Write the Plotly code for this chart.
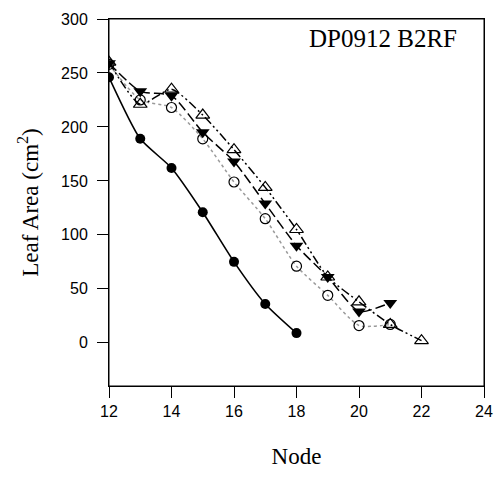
import plotly.graph_objects as go

nodes_a = [12, 13, 14, 15, 16, 17, 18]
area_a = [246, 189, 162, 121, 75, 36, 9]

nodes_b = [12, 13, 14, 15, 16, 17, 18, 19, 20, 21]
area_b = [259, 233, 229, 195, 168, 129, 90, 61, 29, 37]

nodes_c = [12, 13, 14, 15, 16, 17, 18, 19, 20, 21]
area_c = [258, 225, 218, 189, 149, 115, 71, 44, 16, 17]

nodes_d = [12, 13, 14, 15, 16, 17, 18, 19, 20, 21, 22]
area_d = [260, 221, 235, 211, 179, 144, 105, 61, 38, 17, 2]

x_ticks = [12, 14, 16, 18, 20, 22, 24]
y_ticks = [0, 50, 100, 150, 200, 250, 300]

fig = go.Figure()

fig.add_trace(go.Scatter(
    x=nodes_c, y=area_c, mode="lines+markers",
    line=dict(color="#9a9a9a", width=1.5, dash="dot", shape="spline", smoothing=0.6),
    marker=dict(symbol="circle-open", size=10, color="black", line=dict(width=1.2, color="black")),
))
fig.add_trace(go.Scatter(
    x=nodes_d, y=area_d, mode="lines+markers",
    line=dict(color="black", width=1.5, dash="9px,3px,2px,3px,2px,3px", shape="spline", smoothing=0.6),
    marker=dict(symbol="triangle-up-open", size=12, color="black", line=dict(width=1.2, color="black")),
))
fig.add_trace(go.Scatter(
    x=nodes_b, y=area_b, mode="lines+markers",
    line=dict(color="black", width=1.5, dash="10px,4px", shape="spline", smoothing=0.6),
    marker=dict(symbol="triangle-down", size=12, color="black"),
))
fig.add_trace(go.Scatter(
    x=nodes_a, y=area_a, mode="lines+markers",
    line=dict(color="black", width=1.6, shape="spline", smoothing=0.6),
    marker=dict(symbol="circle", size=10, color="black"),
))

axis_common = dict(
    showline=True, linecolor="black", linewidth=1, mirror=True,
    ticks="outside", ticklen=11, tickwidth=1, tickcolor="black",
    showgrid=False, zeroline=False, automargin=False, ticklabeloverflow="allow",
    tickfont=dict(family="Liberation Sans, Arial", size=16, color="black"),
)

fig.update_xaxes(
    range=[12, 24], tickvals=x_ticks, ticklabelstandoff=0,
    title=dict(text="Node", font=dict(family="Liberation Serif, Times New Roman", size=23, color="black"), standoff=28),
    **axis_common,
)
fig.update_yaxes(
    range=[-40, 300], tickvals=y_ticks, ticklabelstandoff=6,
    title=dict(text="Leaf Area (cm<sup>2</sup>)", font=dict(family="Liberation Serif, Times New Roman", size=23, color="black"), standoff=16),
    **axis_common,
)

fig.add_shape(
    type="rect", xref="paper", yref="paper", x0=0, y0=0, x1=1, y1=1,
    line=dict(color="black", width=1), fillcolor="rgba(0,0,0,0)", layer="above",
)

fig.add_annotation(
    text="DP0912 B2RF", xref="paper", yref="paper", x=0.932, y=0.948,
    xanchor="right", yanchor="middle", showarrow=False,
    font=dict(family="Liberation Serif, Times New Roman", size=25, color="black"),
)

fig.update_layout(
    width=495, height=477,
    margin=dict(l=109, r=11, t=19, b=91),
    plot_bgcolor="white", paper_bgcolor="white",
    showlegend=False,
)

fig.write_html(
    "out.html",
    config={"displayModeBar": False},
    post_script="document.body.style.margin='0';document.body.style.overflow='hidden';document.documentElement.style.overflow='hidden';",
)
